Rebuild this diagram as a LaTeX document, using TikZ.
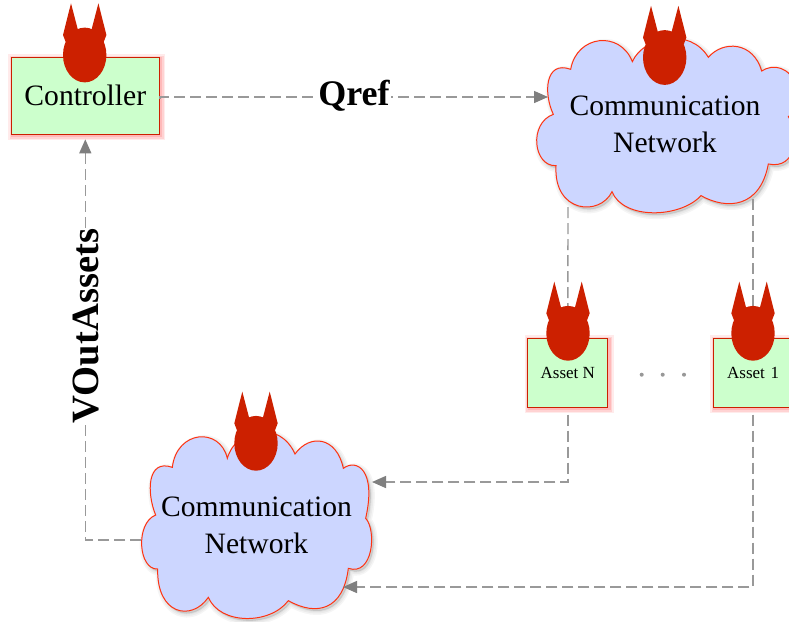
\documentclass[tikz,border=0pt]{standalone}
\usepackage{fontspec}
\setmainfont{Liberation Serif}
\usetikzlibrary{arrows.meta}
\definecolor{devilred}{HTML}{CC2000}
\definecolor{boxgreen}{HTML}{CCFFCC}
\definecolor{cloudblue}{HTML}{CCD6FF}
\definecolor{cloudline}{HTML}{FF3311}
\definecolor{linegray}{HTML}{999999}
\definecolor{tipgray}{HTML}{7F7F7F}
\newcommand\cloudApath{(337,185) .. controls (370,110) and (510,80) .. (565,172) .. controls (610,120) and (700,125) .. (725,213) .. controls (760,190) and (810,200) .. (830,260) .. controls (835,300) and (830,330) .. (805,350) .. controls (840,400) and (830,510) .. (745,492) .. controls (720,625) and (620,630) .. (543,587) .. controls (480,655) and (310,660) .. (276,575) .. controls (240,650) and (100,640) .. (108,497) .. controls (40,500) and (25,370) .. (100,343) .. controls (70,280) and (75,180) .. (152,208) .. controls (170,105) and (300,90) .. (337,185) -- cycle}
\newcommand\cloudBpath{(322,235) .. controls (350,140) and (480,120) .. (525,222) .. controls (570,160) and (650,170) .. (670,265) .. controls (710,235) and (770,270) .. (737,415) .. controls (770,450) and (760,590) .. (685,565) .. controls (670,690) and (590,710) .. (505,662) .. controls (450,735) and (300,735) .. (265,652) .. controls (215,725) and (110,705) .. (113,567) .. controls (55,570) and (45,430) .. (107,405) .. controls (80,340) and (80,235) .. (157,262) .. controls (170,150) and (300,140) .. (322,235) -- cycle}
\tikzset{
  x=1pt,y=-1pt,
  assetbox/.style={draw=devilred,line width=1pt,fill=boxgreen,inner sep=0pt,
    preaction={draw=red,draw opacity=.08,line width=9pt,transform canvas={shift={(1.5pt,-1.5pt)}}},
    preaction={draw=red,draw opacity=.10,line width=6pt,transform canvas={shift={(1.5pt,-1.5pt)}}},
    preaction={draw=red,draw opacity=.12,line width=3pt,transform canvas={shift={(1.5pt,-1.5pt)}}}},
  link/.style={draw=linegray,line width=1.4pt,dash pattern=on 11pt off 5pt},
  arrowlink/.style={link,-{Triangle[length=14pt,width=12pt,color=tipgray]}},
  biglabel/.style={font=\fontsize{29.6}{36}\selectfont,anchor=base,inner sep=0pt},
  smalllabel/.style={font=\fontsize{17}{20}\selectfont},
  boldlabel/.style={font=\fontsize{36}{40}\selectfont\bfseries,fill=white,inner xsep=1pt,inner ysep=3pt},
  devil/.pic={
    \fill[devilred] (0,0) ellipse [x radius=21.7pt,y radius=27.4pt];
    \fill[devilred] (-7,-26) -- (-13.7,-51.7) -- (-21.7,-20) -- (-19,-13) -- (0,-10) -- (19,-13) -- (21.7,-20) -- (13.7,-51.7) -- (7,-26) -- cycle;
  },
  zoomA/.style={shift={(520,0)},x=.33333pt,y=-.33333pt},
  zoomB/.style={shift={(120,380)},x=.33333pt,y=-.33333pt},
}
\begin{document}
\begin{tikzpicture}
\path[use as bounding box,clip] (0,0) rectangle (789,621);
\fill[white] (0,0) rectangle (789,621);

% clouds
\begin{scope}[zoomA]
  \foreach \w in {8,5,2}{\draw[black,draw opacity=.04,line width=\w pt,fill=black,fill opacity=.04,shift={(6,7)}] \cloudApath;}
  \draw[cloudline,line width=1pt,fill=cloudblue] \cloudApath;
\end{scope}
\begin{scope}[zoomB]
  \foreach \w in {8,5,2}{\draw[black,draw opacity=.04,line width=\w pt,fill=black,fill opacity=.04,shift={(6,7)}] \cloudBpath;}
  \draw[cloudline,line width=1pt,fill=cloudblue] \cloudBpath;
\end{scope}

% boxes
\node[assetbox,minimum width=148pt,minimum height=77.3pt,font=\fontsize{29.6}{36}\selectfont] (ctrl) at (85.3,95.7) {\raisebox{-1pt}{Controller}};
\node[assetbox,minimum width=79.7pt,minimum height=68.7pt,smalllabel] (assetN) at (567.8,372.7) {Asset N};
\node[assetbox,minimum width=79.7pt,minimum height=68.7pt,smalllabel,text width=79.7pt,align=center] (assetO) at (753.1,372.7) {Asset 1};

% cloud texts
\node[biglabel] (netAa) at (665,115.7) {Communication};
\node[biglabel] (netAb) at (665,152.7) {Network};
\node[biglabel] (netBa) at (256.5,516.7) {Communication};
\node[biglabel] (netBb) at (256.5,553.3) {Network};

% connector end points on the clouds
\coordinate (cloudAin) at (548,97);
\coordinate (cloudAleft) at (568,207);
\coordinate (cloudAright) at (753,199);
\coordinate (cloudBout) at (141,540);
\coordinate (cloudBinN) at (372,482);
\coordinate (cloudBinO) at (343,587);

% connectors
\draw[arrowlink,shorten <=3pt] (ctrl.east) -- (ctrl.east |- cloudAin) -- (cloudAin);
\draw[arrowlink,shorten >=4.5pt] (cloudBout) -- (ctrl.south |- cloudBout) -- (ctrl.south);
\draw[link] (cloudAleft) -- (assetN.north);
\draw[link] (cloudAright) -- (cloudAright |- assetO.north);
\draw[arrowlink,shorten <=7pt] (assetN.south) -- (assetN.south |- cloudBinN) -- (cloudBinN);
\draw[arrowlink,shorten <=7pt] (cloudAright |- assetO.south) -- (cloudAright |- cloudBinO) -- (cloudBinO);

% labels
\node[boldlabel] (qref) at (354,96) {Qref};
\node[boldlabel,rotate=90,font=\fontsize{38.6}{42}\selectfont\bfseries] (vout) at (86,326) {VOutAssets};

% ellipsis
\foreach \px/\nm in {641.7/a,662.7/b,684/c}{\fill[tipgray!80] (\px,374.7) circle [radius=2pt];}

% devils
\pic (devC) at (84.7,55) {devil};
\pic (devA) at (664.7,57.5) {devil};
\pic (devN) at (568,333.3) {devil};
\pic (devO) at (753,333.3) {devil};
\pic (devB) at (256,443.3) {devil};
\end{tikzpicture}
\end{document}
